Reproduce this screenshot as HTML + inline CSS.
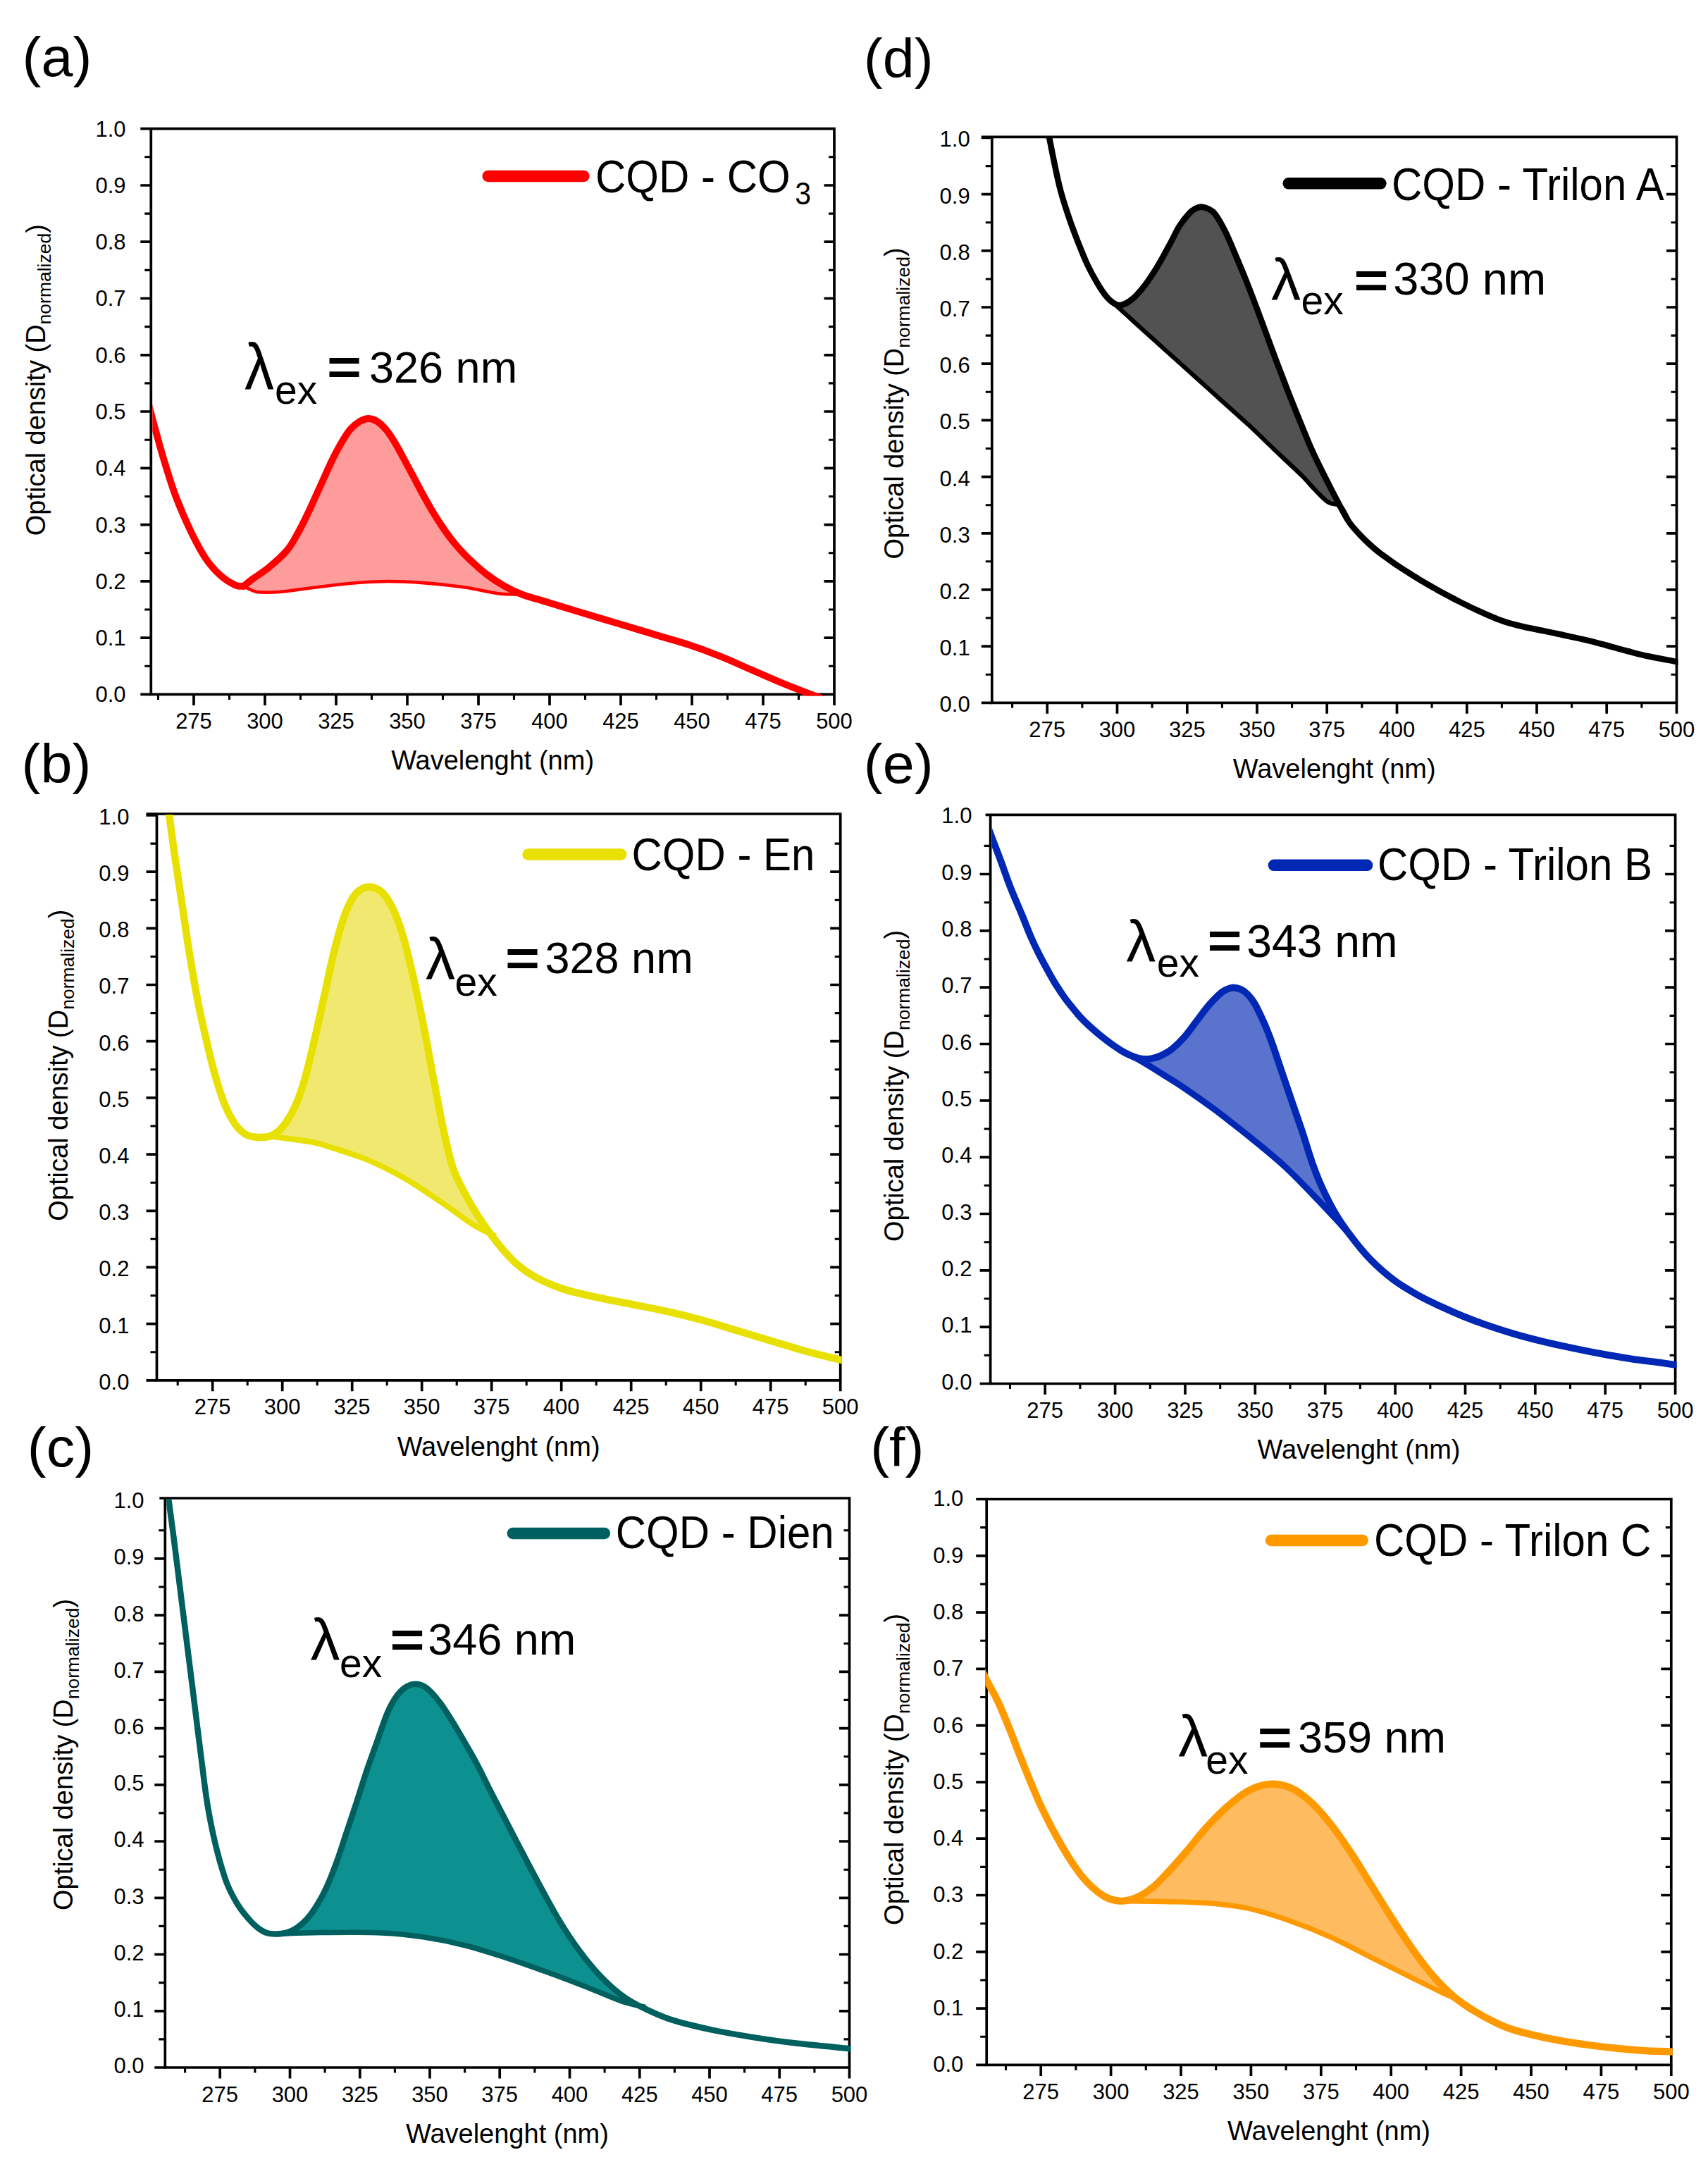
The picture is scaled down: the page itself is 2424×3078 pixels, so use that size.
<!DOCTYPE html>
<html lang="en"><head><meta charset="utf-8"><title>Absorption spectra of CQD samples</title>
<style>html,body{margin:0;padding:0;background:#fff}body{width:2424px;height:3078px;overflow:hidden}svg{display:block}text{font-family:"Liberation Sans", Arial, sans-serif;fill:#000}.tk{font-size:31px}.ti{font-size:38px}.pl{font-size:77px}.lg{font-size:60px}.ax{stroke:#000;fill:none}</style></head><body>
<svg width="2424" height="3078" viewBox="0 0 2424 3078">
<rect width="2424" height="3078" fill="#fff"/>
<g id="panel-a">
<clipPath id="cpa"><rect x="216.3" y="183.7" width="969.7" height="803.9"/></clipPath>
<path class="ax" d="M199.3 182.7H1185.8M212.5 985.4H1185.8M214.3 182.7V985.4M1184 182.7V1000.9" stroke-width="3.7"/>
<path class="ax" d="M199.3 985.4H214.3M199.3 905.1H214.3M1169.5 905.1H1184M199.3 824.9H214.3M1169.5 824.9H1184M199.3 744.6H214.3M1169.5 744.6H1184M199.3 664.3H214.3M1169.5 664.3H1184M199.3 584H214.3M1169.5 584H1184M199.3 503.8H214.3M1169.5 503.8H1184M199.3 423.5H214.3M1169.5 423.5H1184M199.3 343.2H214.3M1169.5 343.2H1184M199.3 263H214.3M1169.5 263H1184M275 985.4V1000.9M376 985.4V1000.9M477 985.4V1000.9M578 985.4V1000.9M679 985.4V1000.9M780 985.4V1000.9M881 985.4V1000.9M982 985.4V1000.9M1083 985.4V1000.9" stroke-width="3.7"/>
<path class="ax" d="M205.3 945.3H214.3M1176 945.3H1184M205.3 865H214.3M1176 865H1184M205.3 784.7H214.3M1176 784.7H1184M205.3 704.5H214.3M1176 704.5H1184M205.3 624.2H214.3M1176 624.2H1184M205.3 543.9H214.3M1176 543.9H1184M205.3 463.6H214.3M1176 463.6H1184M205.3 383.4H214.3M1176 383.4H1184M205.3 303.1H214.3M1176 303.1H1184M205.3 222.8H214.3M1176 222.8H1184M224.5 985.4V992.9M325.5 985.4V992.9M426.5 985.4V992.9M527.5 985.4V992.9M628.5 985.4V992.9M729.5 985.4V992.9M830.5 985.4V992.9M931.5 985.4V992.9M1032.5 985.4V992.9M1133.5 985.4V992.9" stroke-width="3.1"/>
<g clip-path="url(#cpa)">
<path d="M345.8 832L346.7 831.3L347.7 830.4L349 829.3L350.4 828L352.1 826.7L353.9 825.2L355.9 823.6L358 822L360.4 820.3L363 818.5L365.9 816.6L368.9 814.5L372 812.4L375.2 810.2L378.4 807.8L381.5 805.3L384.7 802.6L388.1 799.7L391.5 796.7L395 793.5L398.4 790.3L401.6 787.1L404.6 784L407.3 781L409.6 778.2L411.7 775.4L413.5 772.7L415.1 770.1L416.7 767.4L418.2 764.7L419.8 761.8L421.5 758.8L423.3 755.6L425 752.4L426.8 749L428.6 745.5L430.3 742L432.1 738.5L433.8 735L435.5 731.5L437.2 728L438.8 724.5L440.5 720.9L442.1 717.3L443.7 713.7L445.4 710.2L447 706.6L448.6 703L450.2 699.4L451.9 695.8L453.5 692.2L455.1 688.6L456.7 685L458.3 681.5L459.9 678L461.5 674.5L463.1 671.1L464.6 667.6L466.2 664.2L467.7 660.9L469.2 657.5L470.7 654.3L472.3 651.1L473.8 648L475.3 645L476.9 642L478.4 639.1L480 636.3L481.5 633.5L483 630.9L484.5 628.3L486 625.8L487.5 623.4L488.9 621.1L490.3 618.8L491.7 616.7L493.1 614.6L494.5 612.7L495.9 610.8L497.4 609L498.9 607.3L500.5 605.7L502.1 604.2L503.8 602.8L505.4 601.5L507 600.3L508.7 599.2L510.3 598.2L511.9 597.3L513.5 596.5L515.1 595.8L516.8 595.1L518.4 594.6L520 594.3L521.6 594.1L523.2 594L524.8 594.1L526.4 594.3L528 594.7L529.6 595.3L531.3 595.9L532.9 596.7L534.5 597.6L536.1 598.6L537.7 599.7L539.3 601L540.9 602.4L542.6 603.9L544.2 605.5L545.8 607.2L547.4 609.1L549 611L550.6 613.1L552.2 615.3L553.8 617.6L555.4 620.1L557 622.6L558.6 625.2L560.2 627.8L561.8 630.5L563.4 633.2L565 636.1L566.6 639L568.2 642L569.9 645L571.5 648L573.1 651L574.7 654L576.3 657L577.9 660L579.5 663L581.1 666L582.8 669L584.4 672L586 675L587.6 678L589.2 681L590.8 684.1L592.4 687.2L594 690.2L595.7 693.3L597.3 696.3L598.9 699.3L600.5 702.3L602.1 705.2L603.7 708.1L605.3 711L607 713.9L608.6 716.7L610.2 719.5L611.8 722.3L613.4 725L615 727.7L616.6 730.3L618.2 732.8L619.8 735.4L621.4 737.9L623 740.3L624.6 742.8L626.2 745.2L627.8 747.6L629.4 750L631 752.3L632.6 754.6L634.3 756.9L635.9 759.2L637.5 761.4L639.1 763.5L640.7 765.6L642.3 767.6L643.9 769.6L645.5 771.5L647.2 773.5L648.8 775.3L650.4 777.2L652 779L653.5 780.7L654.9 782.3L656.3 783.8L657.6 785.3L659.1 786.9L660.8 788.5L662.7 790.4L664.9 792.5L667.5 794.9L670.4 797.6L673.6 800.5L676.9 803.5L680.4 806.6L683.9 809.6L687.3 812.4L690.6 815L693.8 817.4L697 819.7L700.3 822L703.5 824.1L706.7 826.2L709.9 828.2L713.2 830.1L716.4 832L719.8 833.8L723.5 835.7L727.2 837.5L730.9 839.2L734.4 840.7L737.6 842.1L740 843.3C734.9 843.2 723.3 844.2 709.4 842.5C695.5 840.8 674.3 835.5 656.7 833C639.1 830.5 621.6 828.7 604 827.4C586.4 826.1 568.9 825 551.3 825C533.7 825 516.2 826.2 498.6 827.7C481 829.2 462.9 831.7 445.9 833.7C428.9 835.8 410.2 839 396.7 840C383.2 841 373.5 841.3 365 840C356.5 838.7 349 833.3 345.8 832Z" fill="#fe9b9b"/>
<path d="M345.8 832C349 833.3 356.5 838.7 365 840C373.5 841.3 383.2 841 396.7 840C410.2 839 428.9 835.8 445.9 833.7C462.9 831.7 481 829.2 498.6 827.7C516.2 826.2 533.7 825 551.3 825C568.9 825 586.4 826.1 604 827.4C621.6 828.7 639.1 830.5 656.7 833C674.3 835.5 695.5 840.8 709.4 842.5C723.3 844.2 734.9 843.2 740 843.3" fill="none" stroke="#ff0000" stroke-width="4.6" stroke-linejoin="round" stroke-linecap="butt"/>
<path d="M208.5 563C209.4 566.8 211.5 575.8 214 585.5C216.5 595.2 220.2 608.8 223.6 621C227 633.2 230.1 644.7 234.4 658.5C238.7 672.3 243.2 688 249.2 703.7C255.2 719.5 263.3 738.4 270.3 753C277.3 767.6 284.3 781.1 291.3 791.6C298.3 802.1 305.4 809.8 312.4 816.2C319.4 822.6 327.9 827.6 333.5 830.2C339.1 832.8 343.8 831.7 345.8 832M345.8 832C347.8 830.3 352.1 826.5 358 822C363.9 817.5 373.3 812.1 381.5 805.3C389.7 798.5 400.6 788.8 407.3 781C414 773.2 416.8 767 421.5 758.8C426.2 750.5 431 740.8 435.5 731.5C440 722.2 444.3 712.5 448.6 703C452.9 693.5 457.3 683.7 461.5 674.5C465.7 665.3 469.7 656.1 473.8 648C477.9 639.9 482.1 632.3 486 625.8C489.9 619.3 493.3 613.6 497.4 609C501.4 604.4 506 600.7 510.3 598.2C514.6 595.7 518.9 593.9 523.2 594C527.5 594.1 531.8 595.8 536.1 598.6C540.4 601.4 544.7 605.7 549 611C553.3 616.3 557.5 623.3 561.8 630.5C566.1 637.7 570.4 646.1 574.7 654C579 661.9 583.3 670 587.6 678C591.9 686 596.2 694.5 600.5 702.3C604.8 710.1 609.1 717.9 613.4 725C617.7 732.1 621.9 738.8 626.2 745.2C630.5 751.6 634.8 757.9 639.1 763.5C643.4 769.1 647.7 774.2 652 779C656.3 783.8 658.5 786.5 664.9 792.5C671.3 798.5 682 808.4 690.6 815C699.2 821.6 707.8 827.1 716.4 832C725 836.9 733.3 840.8 742.2 844.2C751.1 847.6 757.5 848.7 770 852.5C782.5 856.3 799.5 861.6 817.1 866.9C834.7 872.2 856.1 878.5 875.6 884.4C895.1 890.2 917.1 896.9 934.2 902C951.3 907.1 963.5 910.3 978.1 915.2C992.7 920.1 1007.4 925.4 1022 931.3C1036.6 937.1 1051.3 944 1065.9 950.3C1080.5 956.6 1095.7 963.4 1109.8 969.3C1123.9 975.1 1139.1 980.9 1150.8 985.4C1162.5 989.9 1175.1 994.2 1180 996" fill="none" stroke="#ff0000" stroke-width="9.8" stroke-linejoin="round" stroke-linecap="round"/>
</g>
<g class="tk" text-anchor="end">
<text x="178.6" y="996.3">0.0</text>
<text x="178.6" y="916">0.1</text>
<text x="178.6" y="835.8">0.2</text>
<text x="178.6" y="755.5">0.3</text>
<text x="178.6" y="675.2">0.4</text>
<text x="178.6" y="594.9">0.5</text>
<text x="178.6" y="514.7">0.6</text>
<text x="178.6" y="434.4">0.7</text>
<text x="178.6" y="354.1">0.8</text>
<text x="178.6" y="273.9">0.9</text>
<text x="178.6" y="193.6">1.0</text>
</g>
<g class="tk" text-anchor="middle">
<text x="275" y="1033.9">275</text>
<text x="376" y="1033.9">300</text>
<text x="477" y="1033.9">325</text>
<text x="578" y="1033.9">350</text>
<text x="679" y="1033.9">375</text>
<text x="780" y="1033.9">400</text>
<text x="881" y="1033.9">425</text>
<text x="982" y="1033.9">450</text>
<text x="1083" y="1033.9">475</text>
<text x="1184" y="1033.9">500</text>
</g>
<text class="ti" text-anchor="middle" x="699.1" y="1092.2">Wavelenght (nm)</text>
<text class="ti" transform="translate(63.5 760.3) rotate(-90)">Optical density (D<tspan font-size="26.5" dy="8.4">normalized</tspan><tspan dy="-8.4">)</tspan></text>
<text class="pl" transform="translate(31.5 108) scale(1.05 1)">(a)</text>
<line x1="692.7" y1="250" x2="828.4" y2="250" stroke="#ff0000" stroke-width="16.5" stroke-linecap="round"/>
<text class="lg" transform="translate(845 272.8) scale(1 1.085)">CQD - CO<tspan font-size="41" dx="6.5" dy="16">3</tspan></text>
<text font-size="84" transform="translate(347 552) scale(1 1.1)">λ</text>
<text font-size="57" x="390" y="573.3">ex</text>
<text font-size="84" font-weight="bold" transform="translate(464 544.6) scale(1 0.87)">=</text>
<text font-size="63" x="524" y="543.1">326 nm</text>
</g>
<g id="panel-b">
<clipPath id="cpb"><rect x="224.5" y="1156" width="970.2" height="805"/></clipPath>
<path class="ax" d="M207.5 1155H1194.5M220.7 1958.8H1194.5M222.5 1155V1958.8M1192.7 1155V1974.3" stroke-width="3.7"/>
<path class="ax" d="M207.5 1958.8H222.5M207.5 1878.6H222.5M1178.2 1878.6H1192.7M207.5 1798.4H222.5M1178.2 1798.4H1192.7M207.5 1718.3H222.5M1178.2 1718.3H1192.7M207.5 1638.1H222.5M1178.2 1638.1H1192.7M207.5 1557.9H222.5M1178.2 1557.9H1192.7M207.5 1477.7H222.5M1178.2 1477.7H1192.7M207.5 1397.5H222.5M1178.2 1397.5H1192.7M207.5 1317.4H222.5M1178.2 1317.4H1192.7M207.5 1237.2H222.5M1178.2 1237.2H1192.7M207.5 1157H222.5M301.7 1958.8V1974.3M400.7 1958.8V1974.3M499.7 1958.8V1974.3M598.7 1958.8V1974.3M697.7 1958.8V1974.3M796.7 1958.8V1974.3M895.7 1958.8V1974.3M994.7 1958.8V1974.3M1093.7 1958.8V1974.3" stroke-width="3.7"/>
<path class="ax" d="M213.5 1918.7H222.5M1184.7 1918.7H1192.7M213.5 1838.5H222.5M1184.7 1838.5H1192.7M213.5 1758.3H222.5M1184.7 1758.3H1192.7M213.5 1678.2H222.5M1184.7 1678.2H1192.7M213.5 1598H222.5M1184.7 1598H1192.7M213.5 1517.8H222.5M1184.7 1517.8H1192.7M213.5 1437.6H222.5M1184.7 1437.6H1192.7M213.5 1357.5H222.5M1184.7 1357.5H1192.7M213.5 1277.3H222.5M1184.7 1277.3H1192.7M213.5 1197.1H222.5M1184.7 1197.1H1192.7M252.2 1958.8V1966.3M351.2 1958.8V1966.3M450.2 1958.8V1966.3M549.2 1958.8V1966.3M648.2 1958.8V1966.3M747.2 1958.8V1966.3M846.2 1958.8V1966.3M945.2 1958.8V1966.3M1044.2 1958.8V1966.3M1143.2 1958.8V1966.3" stroke-width="3.1"/>
<g clip-path="url(#cpb)">
<path d="M382.7 1612.5L384 1611.7L385.8 1610.7L388 1609.5L390.3 1608.1L392.9 1606.5L395.4 1604.7L397.9 1602.6L400.2 1600.2L402.4 1597.5L404.7 1594.5L406.9 1591.3L409.2 1587.8L411.5 1584.1L413.6 1580.2L415.8 1576.2L417.8 1572.1L419.7 1567.9L421.6 1563.6L423.3 1559.1L425.1 1554.5L426.8 1549.7L428.5 1544.6L430.2 1539.1L431.9 1533.4L433.7 1527.3L435.4 1520.7L437.2 1513.9L438.9 1506.8L440.6 1499.6L442.4 1492.2L444.1 1484.7L445.9 1477.2L447.7 1469.6L449.4 1461.9L451.2 1454L453 1446L454.7 1438L456.5 1430L458.2 1421.9L460 1414L461.8 1406L463.5 1397.9L465.3 1389.7L467 1381.5L468.7 1373.5L470.5 1365.6L472.2 1358L474 1350.8L475.8 1343.8L477.5 1337.1L479.3 1330.5L481.1 1324.1L482.8 1318L484.6 1312.2L486.3 1306.7L488.1 1301.6L489.9 1296.8L491.6 1292.3L493.4 1288.2L495.1 1284.3L496.8 1280.7L498.6 1277.4L500.3 1274.4L502.1 1271.7L503.9 1269.3L505.6 1267.3L507.4 1265.5L509.2 1264.1L510.9 1262.8L512.7 1261.8L514.4 1260.9L516.2 1260.1L518 1259.4L519.7 1258.9L521.5 1258.6L523.2 1258.5L524.9 1258.5L526.7 1258.7L528.4 1259L530.2 1259.4L532 1259.9L533.7 1260.6L535.5 1261.4L537.2 1262.3L539 1263.4L540.8 1264.8L542.5 1266.4L544.3 1268.2L546.1 1270.3L547.8 1272.6L549.6 1275.1L551.3 1277.8L553 1280.7L554.8 1283.9L556.5 1287.4L558.3 1291.1L560.1 1295.1L561.8 1299.2L563.6 1303.7L565.4 1308.3L567.1 1313.2L568.9 1318.4L570.6 1323.9L572.4 1329.7L574.2 1335.8L575.9 1342.3L577.7 1349L579.4 1356L581.1 1363.3L582.9 1370.7L584.6 1378.3L586.4 1385.9L588.2 1393.7L589.9 1401.7L591.7 1409.8L593.4 1418.2L595.2 1426.6L597 1435.2L598.7 1443.9L600.5 1452.6L602.3 1461.5L604 1470.6L605.7 1479.8L607.5 1489.1L609.2 1498.4L611 1507.8L612.7 1517.1L614.5 1526.4L616.3 1535.7L618 1545.1L619.8 1554.6L621.5 1564.1L623.3 1573.4L625.1 1582.6L626.9 1591.5L628.7 1600L630.5 1608.2L632.1 1616.1L633.8 1623.8L635.5 1631.2L637.2 1638.5L639.2 1645.6L641.3 1652.6L643.6 1659.5L646.2 1666.2L649 1672.7L652 1679.1L655.1 1685.3L658.4 1691.4L661.7 1697.4L665.1 1703.4L668.5 1709.3L672.2 1715.4L676.3 1721.9L680.7 1728.4L685 1734.8L689.2 1740.8L692.9 1746.2L696.1 1750.7L698.4 1754.1L703.3 1754.1C698.3 1751.6 686.8 1747.5 673.5 1739.2C660.2 1730.9 640.3 1715.5 623.7 1704.3C607.1 1693.1 590.6 1681.5 574 1672C557.4 1662.5 540.8 1654.1 524.2 1647.1C507.6 1640 487.4 1634 474.4 1629.7C461.3 1625.4 456.5 1623.6 445.9 1621.3C435.3 1619 421.3 1617.5 410.8 1616C400.3 1614.5 387.4 1613.1 382.7 1612.5Z" fill="#f1e86f"/>
<path d="M382.7 1612.5C387.4 1613.1 400.3 1614.5 410.8 1616C421.3 1617.5 435.3 1619 445.9 1621.3C456.5 1623.6 461.3 1625.4 474.4 1629.7C487.4 1634 507.6 1640 524.2 1647.1C540.8 1654.1 557.4 1662.5 574 1672C590.6 1681.5 607.1 1693.1 623.7 1704.3C640.3 1715.5 660.2 1730.9 673.5 1739.2C686.8 1747.5 698.3 1751.6 703.3 1754.1" fill="none" stroke="#e8e000" stroke-width="8" stroke-linejoin="round" stroke-linecap="butt"/>
<path d="M239 1140C239.2 1142.9 239 1145.9 240.4 1157.6C241.8 1169.3 244.5 1189.8 247.4 1210.3C250.3 1230.8 254.5 1257.1 258 1280.5C261.5 1303.9 264.7 1327.4 268.5 1350.8C272.3 1374.2 276.7 1399.9 280.8 1421C284.9 1442.1 289 1459.6 293.1 1477.2C297.2 1494.8 301 1511.2 305.4 1526.4C309.8 1541.6 314.7 1557.2 319.4 1568.6C324.1 1580 328.8 1588.2 333.5 1594.9C338.2 1601.6 342.8 1605.9 347.5 1609C352.2 1612.1 355.7 1612.9 361.6 1613.5C367.5 1614.1 376.3 1614.7 382.7 1612.5C389.1 1610.3 394.3 1606.9 400.2 1600.2C406.1 1593.5 412.5 1583.2 417.8 1572.1C423.1 1561 427.2 1549.2 431.9 1533.4C436.6 1517.6 441.2 1497.1 445.9 1477.2C450.6 1457.3 455.3 1435.1 460 1414C464.7 1392.9 469.3 1369.5 474 1350.8C478.7 1332.1 483.4 1314.8 488.1 1301.6C492.8 1288.4 497.4 1278.6 502.1 1271.7C506.8 1264.8 511.5 1262.1 516.2 1260.1C520.9 1258 525.5 1258.1 530.2 1259.4C534.9 1260.8 539.6 1262.9 544.3 1268.2C549 1273.5 553.6 1280.8 558.3 1291.1C563 1301.3 567.7 1313.9 572.4 1329.7C577.1 1345.5 581.7 1365.4 586.4 1385.9C591.1 1406.4 595.8 1429.2 600.5 1452.6C605.2 1476 609.8 1501.8 614.5 1526.4C619.2 1551 623.9 1577.8 628.7 1600C633.6 1622.2 637 1641.3 643.6 1659.5C650.2 1677.7 659.4 1693.5 668.5 1709.3C677.6 1725.1 688.4 1740.8 698.4 1754.1C708.4 1767.4 718.2 1779.4 728.2 1788.9C738.2 1798.4 746.5 1804.7 758.1 1811.3C769.7 1817.9 783 1823.7 797.9 1828.7C812.8 1833.7 831.1 1837.5 847.7 1841.2C864.3 1844.9 880.8 1847.8 897.4 1851.1C914 1854.4 930.6 1857.4 947.2 1861.1C963.8 1864.8 980.4 1868.9 997 1873.5C1013.6 1878.1 1030.1 1883.5 1046.7 1888.5C1063.3 1893.5 1079.9 1898.4 1096.5 1903.4C1113.1 1908.4 1130.5 1914 1146.3 1918.3C1162 1922.6 1182 1927.1 1191 1929.3C1200 1931.5 1198.5 1931.1 1200 1931.5" fill="none" stroke="#e8e000" stroke-width="10.4" stroke-linejoin="round" stroke-linecap="round"/>
</g>
<g class="tk" text-anchor="end">
<text x="183.4" y="1971.7">0.0</text>
<text x="183.4" y="1891.5">0.1</text>
<text x="183.4" y="1811.3">0.2</text>
<text x="183.4" y="1731.2">0.3</text>
<text x="183.4" y="1651">0.4</text>
<text x="183.4" y="1570.8">0.5</text>
<text x="183.4" y="1490.6">0.6</text>
<text x="183.4" y="1410.4">0.7</text>
<text x="183.4" y="1330.3">0.8</text>
<text x="183.4" y="1250.1">0.9</text>
<text x="183.4" y="1169.9">1.0</text>
</g>
<g class="tk" text-anchor="middle">
<text x="301.7" y="2007.3">275</text>
<text x="400.7" y="2007.3">300</text>
<text x="499.7" y="2007.3">325</text>
<text x="598.7" y="2007.3">350</text>
<text x="697.7" y="2007.3">375</text>
<text x="796.7" y="2007.3">400</text>
<text x="895.7" y="2007.3">425</text>
<text x="994.7" y="2007.3">450</text>
<text x="1093.7" y="2007.3">475</text>
<text x="1192.7" y="2007.3">500</text>
</g>
<text class="ti" text-anchor="middle" x="707.6" y="2065.6">Wavelenght (nm)</text>
<text class="ti" transform="translate(96.4 1732.7) rotate(-90)">Optical density (D<tspan font-size="26.5" dy="8.4">normalized</tspan><tspan dy="-8.4">)</tspan></text>
<text class="pl" transform="translate(30.5 1111.4) scale(1.05 1)">(b)</text>
<line x1="749.5" y1="1212.5" x2="881.3" y2="1212.5" stroke="#e8e000" stroke-width="16.5" stroke-linecap="round"/>
<text class="lg" transform="translate(896.4 1235.3) scale(1 1.085)">CQD - En</text>
<text font-size="84" transform="translate(604 1389.6) scale(1 1)">λ</text>
<text font-size="57" x="645.5" y="1412.5">ex</text>
<text font-size="84" font-weight="bold" transform="translate(717 1383.6) scale(1 0.87)">=</text>
<text font-size="63" x="773.5" y="1380.5">328 nm</text>
</g>
<g id="panel-c">
<clipPath id="cpc"><rect x="236.3" y="2127" width="971.2" height="809.2"/></clipPath>
<path class="ax" d="M226.3 2126H1207.3M232.5 2934H1207.3M234.3 2126V2934M1205.5 2126V2949.5" stroke-width="3.7"/>
<path class="ax" d="M219.3 2934H234.3M219.3 2853.8H234.3M1191 2853.8H1205.5M219.3 2773.5H234.3M1191 2773.5H1205.5M219.3 2693.3H234.3M1191 2693.3H1205.5M219.3 2613H234.3M1191 2613H1205.5M219.3 2532.8H234.3M1191 2532.8H1205.5M219.3 2452.6H234.3M1191 2452.6H1205.5M219.3 2372.3H234.3M1191 2372.3H1205.5M219.3 2292.1H234.3M1191 2292.1H1205.5M219.3 2211.8H234.3M1191 2211.8H1205.5M312.2 2934V2949.5M411.5 2934V2949.5M510.8 2934V2949.5M610 2934V2949.5M709.2 2934V2949.5M808.5 2934V2949.5M907.8 2934V2949.5M1007 2934V2949.5M1106.2 2934V2949.5" stroke-width="3.7"/>
<path class="ax" d="M225.3 2893.9H234.3M1197.5 2893.9H1205.5M225.3 2813.6H234.3M1197.5 2813.6H1205.5M225.3 2733.4H234.3M1197.5 2733.4H1205.5M225.3 2653.2H234.3M1197.5 2653.2H1205.5M225.3 2572.9H234.3M1197.5 2572.9H1205.5M225.3 2492.7H234.3M1197.5 2492.7H1205.5M225.3 2412.4H234.3M1197.5 2412.4H1205.5M225.3 2332.2H234.3M1197.5 2332.2H1205.5M225.3 2252H234.3M1197.5 2252H1205.5M225.3 2171.7H234.3M1197.5 2171.7H1205.5M262.6 2934V2941.5M361.9 2934V2941.5M461.1 2934V2941.5M560.4 2934V2941.5M659.6 2934V2941.5M758.9 2934V2941.5M858.1 2934V2941.5M957.4 2934V2941.5M1056.6 2934V2941.5M1155.9 2934V2941.5" stroke-width="3.1"/>
<g clip-path="url(#cpc)">
<path d="M393.5 2744.5L394.6 2744.4L396 2744.2L397.7 2744.1L399.6 2743.9L401.6 2743.6L403.7 2743.3L405.6 2742.9L407.5 2742.4L409.3 2741.8L411 2741.1L412.8 2740.4L414.5 2739.5L416.3 2738.6L418.1 2737.6L419.8 2736.6L421.6 2735.4L423.4 2734.2L425.1 2732.9L426.9 2731.5L428.7 2730L430.4 2728.5L432.2 2726.8L433.9 2725L435.7 2723.1L437.5 2721.1L439.2 2718.9L441 2716.7L442.7 2714.3L444.4 2711.9L446.2 2709.3L447.9 2706.6L449.7 2703.8L451.5 2700.9L453.2 2697.9L455 2694.8L456.8 2691.6L458.5 2688.2L460.3 2684.8L462 2681.2L463.8 2677.4L465.6 2673.5L467.3 2669.4L469.1 2665.2L470.8 2660.8L472.5 2656.4L474.3 2651.8L476 2647.1L477.8 2642.3L479.6 2637.4L481.3 2632.2L483.1 2627L484.8 2621.6L486.6 2616.2L488.4 2610.8L490.1 2605.4L491.9 2600.1L493.7 2594.8L495.4 2589.6L497.2 2584.4L498.9 2579.2L500.6 2573.9L502.4 2568.7L504.1 2563.4L505.9 2558L507.6 2552.6L509.4 2547.2L511.1 2541.7L512.8 2536.2L514.6 2530.7L516.3 2525.2L518.1 2519.6L520 2514L521.9 2508.3L524 2502.5L526 2496.7L528.1 2490.8L530.2 2485L532.3 2479.3L534.3 2473.7L536.2 2468.3L538.1 2463L539.9 2457.8L541.6 2452.7L543.3 2447.7L545 2442.8L546.7 2438.2L548.5 2433.8L550.2 2429.7L552 2425.9L553.7 2422.3L555.5 2418.9L557.2 2415.8L559 2412.8L560.8 2410.1L562.5 2407.5L564.3 2405.1L566.1 2402.9L567.8 2400.9L569.6 2399.2L571.3 2397.6L573 2396.2L574.8 2394.9L576.5 2393.8L578.3 2392.8L580.1 2391.9L581.8 2391.2L583.6 2390.7L585.4 2390.2L587.1 2390L588.9 2389.8L590.6 2389.8L592.4 2390L594.1 2390.3L595.8 2390.6L597.5 2391.1L599.2 2391.8L600.9 2392.6L602.6 2393.6L604.5 2394.8L606.4 2396.3L608.4 2398L610.5 2400L612.7 2402.3L615 2404.7L617.2 2407.3L619.5 2410L621.8 2412.8L624 2415.6L626.2 2418.5L628.4 2421.6L630.6 2424.8L632.8 2428.1L634.9 2431.5L637.1 2435L639.3 2438.5L641.5 2442L643.7 2445.6L645.9 2449.2L648.1 2452.9L650.3 2456.6L652.5 2460.4L654.7 2464.2L656.9 2468L659.1 2471.8L661.3 2475.6L663.5 2479.4L665.7 2483.2L667.9 2487.1L670.1 2491L672.3 2494.9L674.5 2498.9L676.7 2503L678.9 2507.2L681.1 2511.5L683.3 2515.9L685.5 2520.3L687.6 2524.8L689.8 2529.2L692 2533.6L694.2 2538L696.4 2542.2L698.5 2546.3L700.5 2550.3L702.6 2554.4L704.8 2558.5L707 2562.7L709.3 2567.2L711.8 2572L714.4 2577L717.1 2582.2L719.9 2587.6L722.8 2593.2L725.7 2598.9L728.8 2604.8L732 2610.9L735.2 2617.1L738.6 2623.6L742.1 2630.3L745.8 2637.3L749.5 2644.4L753.3 2651.6L757 2658.8L760.8 2665.8L764.5 2672.7L768.2 2679.5L771.8 2686.3L775.5 2693.1L779.2 2699.8L782.8 2706.4L786.5 2712.9L790.1 2719.3L793.8 2725.4L797.5 2731.4L801.1 2737.2L804.8 2742.9L808.4 2748.5L812 2753.9L815.7 2759.2L819.3 2764.3L823 2769.3L826.7 2774.2L830.3 2778.9L834 2783.5L837.6 2787.9L841.3 2792.3L845 2796.4L848.6 2800.5L852.3 2804.4L856 2808.2L859.6 2811.8L863.3 2815.3L867 2818.7L870.6 2821.9L874.3 2825L877.9 2828L881.6 2830.8L885.5 2833.5L889.6 2836.2L893.9 2838.8L898.1 2841.2L902.1 2843.5L905.6 2845.4L908.6 2847.1L910.9 2848.4L916 2848.4C910.3 2846.9 895.1 2844.2 881.6 2839.6C868.1 2835 852.4 2827.6 834.8 2820.8C817.2 2814 795.7 2805.7 776.2 2798.6C756.7 2791.5 737.2 2784.4 717.7 2778.1C698.2 2771.8 678.6 2765.4 659.1 2760.5C639.6 2755.6 620.1 2751.7 600.6 2748.8C581.1 2745.9 566.4 2744 542 2743C517.6 2742 478.9 2742.3 454.2 2742.6C429.4 2742.8 403.6 2744.2 393.5 2744.5Z" fill="#0d9090"/>
<path d="M393.5 2744.5C403.6 2744.2 429.4 2742.8 454.2 2742.6C478.9 2742.3 517.6 2742 542 2743C566.4 2744 581.1 2745.9 600.6 2748.8C620.1 2751.7 639.6 2755.6 659.1 2760.5C678.6 2765.4 698.2 2771.8 717.7 2778.1C737.2 2784.4 756.7 2791.5 776.2 2798.6C795.7 2805.7 817.2 2814 834.8 2820.8C852.4 2827.6 868.1 2835 881.6 2839.6C895.1 2844.2 910.3 2846.9 916 2848.4" fill="none" stroke="#005f5f" stroke-width="7.5" stroke-linejoin="round" stroke-linecap="butt"/>
<path d="M237.5 2110C237.8 2112.9 237.8 2115.9 239.3 2127.6C240.8 2139.3 243.7 2159.8 246.3 2180.3C248.9 2200.8 252.2 2227.1 255.1 2250.5C258 2273.9 261 2297.4 263.9 2320.8C266.8 2344.2 269.9 2368.6 272.7 2391C275.5 2413.4 278.3 2436.8 280.6 2455C282.9 2473.2 284.6 2486.7 286.3 2500C288 2513.3 289.1 2523.4 290.7 2535.1C292.3 2546.8 293.9 2558.6 296 2570.3C298.1 2582 300.4 2593.7 303 2605.4C305.6 2617.1 308.6 2629.2 311.8 2640.5C315 2651.8 318.3 2663.3 322.4 2673.5C326.5 2683.7 331.8 2693.5 336.6 2701.5C341.4 2709.5 346.5 2715.7 351.3 2721.3C356.1 2727 360.7 2731.7 365.4 2735.4C370.1 2739.1 374.7 2741.8 379.4 2743.3C384.1 2744.8 388.8 2744.7 393.5 2744.5C398.2 2744.3 402.8 2743.9 407.5 2742.4C412.2 2740.9 416.9 2738.6 421.6 2735.4C426.3 2732.2 431 2728.4 435.7 2723.1C440.4 2717.8 445 2711.4 449.7 2703.8C454.4 2696.2 459.1 2687.7 463.8 2677.4C468.5 2667.2 473.1 2655.2 477.8 2642.3C482.5 2629.4 487.2 2614.2 491.9 2600.1C496.6 2586 501.2 2572.3 505.9 2558C510.6 2543.7 515 2528.9 520 2514C525 2499.1 531.2 2482.4 536.2 2468.3C541.2 2454.2 545.5 2440.2 550.2 2429.7C554.9 2419.2 559.6 2411.2 564.3 2405.1C569 2398.9 573.6 2395.3 578.3 2392.8C583 2390.3 587.7 2389.4 592.4 2390C597.1 2390.6 601.1 2392 606.4 2396.3C611.7 2400.6 618.1 2408 624 2415.6C629.9 2423.2 635.6 2432.6 641.5 2442C647.4 2451.4 653.2 2461.6 659.1 2471.8C665 2482 670.9 2492 676.7 2503C682.6 2514 688.4 2526.5 694.2 2538C700.1 2549.5 705 2558.8 711.8 2572C718.6 2585.2 726.4 2600.3 735.2 2617.1C744 2633.9 754.7 2654.6 764.5 2672.7C774.3 2690.8 784 2709.3 793.8 2725.4C803.5 2741.5 813.2 2756.1 823 2769.3C832.8 2782.5 842.5 2794.2 852.3 2804.4C862.1 2814.7 871.8 2823.5 881.6 2830.8C891.4 2838.1 899.2 2842.6 910.9 2848.4C922.6 2854.2 935.3 2860.5 951.9 2865.9C968.5 2871.3 990.9 2876.4 1010.4 2880.6C1029.9 2884.8 1049.5 2888 1069 2891.1C1088.5 2894.2 1105.1 2896.7 1127.5 2899.3C1149.9 2901.9 1189.5 2905.5 1203.6 2906.9C1217.7 2908.3 1210.6 2907.5 1212 2907.6" fill="none" stroke="#005f5f" stroke-width="8.5" stroke-linejoin="round" stroke-linecap="round"/>
</g>
<g class="tk" text-anchor="end">
<text x="204.6" y="2942.4">0.0</text>
<text x="204.6" y="2862.2">0.1</text>
<text x="204.6" y="2781.9">0.2</text>
<text x="204.6" y="2701.7">0.3</text>
<text x="204.6" y="2621.4">0.4</text>
<text x="204.6" y="2541.2">0.5</text>
<text x="204.6" y="2461">0.6</text>
<text x="204.6" y="2380.7">0.7</text>
<text x="204.6" y="2300.5">0.8</text>
<text x="204.6" y="2220.2">0.9</text>
<text x="204.6" y="2140">1.0</text>
</g>
<g class="tk" text-anchor="middle">
<text x="312.2" y="2982.5">275</text>
<text x="411.5" y="2982.5">300</text>
<text x="510.8" y="2982.5">325</text>
<text x="610" y="2982.5">350</text>
<text x="709.2" y="2982.5">375</text>
<text x="808.5" y="2982.5">400</text>
<text x="907.8" y="2982.5">425</text>
<text x="1007" y="2982.5">450</text>
<text x="1106.2" y="2982.5">475</text>
<text x="1205.5" y="2982.5">500</text>
</g>
<text class="ti" text-anchor="middle" x="719.9" y="3040.8">Wavelenght (nm)</text>
<text class="ti" transform="translate(103.4 2711.1) rotate(-90)">Optical density (D<tspan font-size="26.5" dy="8.4">normalized</tspan><tspan dy="-8.4">)</tspan></text>
<text class="pl" transform="translate(38.8 2080.5) scale(1.05 1)">(c)</text>
<line x1="727.8" y1="2176" x2="857.9" y2="2176" stroke="#005f5f" stroke-width="16.5" stroke-linecap="round"/>
<text class="lg" transform="translate(873.7 2197.1) scale(1 1.085)">CQD - Dien</text>
<text font-size="84" transform="translate(440.5 2356.4) scale(1 1)">λ</text>
<text font-size="57" x="482" y="2379.8">ex</text>
<text font-size="84" font-weight="bold" transform="translate(553.4 2350.6) scale(1 0.87)">=</text>
<text font-size="63" x="607.2" y="2348.4">346 nm</text>
</g>
<g id="panel-d">
<clipPath id="cpd"><rect x="1409.8" y="195.4" width="971.7" height="804.1"/></clipPath>
<path class="ax" d="M1392.8 194.4H2381.3M1406 997.3H2381.3M1407.8 194.4V997.3M2379.5 194.4V1012.8" stroke-width="3.7"/>
<path class="ax" d="M1392.8 997.3H1407.8M1392.8 917.1H1407.8M2365 917.1H2379.5M1392.8 836.9H1407.8M2365 836.9H2379.5M1392.8 756.8H1407.8M2365 756.8H2379.5M1392.8 676.6H1407.8M2365 676.6H2379.5M1392.8 596.4H1407.8M2365 596.4H2379.5M1392.8 516.2H1407.8M2365 516.2H2379.5M1392.8 436H1407.8M2365 436H2379.5M1392.8 355.9H1407.8M2365 355.9H2379.5M1392.8 275.7H1407.8M2365 275.7H2379.5M1392.8 195.5H1407.8M1486.2 997.3V1012.8M1585.5 997.3V1012.8M1684.8 997.3V1012.8M1784 997.3V1012.8M1883.2 997.3V1012.8M1982.5 997.3V1012.8M2081.8 997.3V1012.8M2181 997.3V1012.8M2280.2 997.3V1012.8" stroke-width="3.7"/>
<path class="ax" d="M1398.8 957.2H1407.8M2371.5 957.2H2379.5M1398.8 877H1407.8M2371.5 877H2379.5M1398.8 796.8H1407.8M2371.5 796.8H2379.5M1398.8 716.7H1407.8M2371.5 716.7H2379.5M1398.8 636.5H1407.8M2371.5 636.5H2379.5M1398.8 556.3H1407.8M2371.5 556.3H2379.5M1398.8 476.1H1407.8M2371.5 476.1H2379.5M1398.8 396H1407.8M2371.5 396H2379.5M1398.8 315.8H1407.8M2371.5 315.8H2379.5M1398.8 235.6H1407.8M2371.5 235.6H2379.5M1436.6 997.3V1004.8M1535.9 997.3V1004.8M1635.1 997.3V1004.8M1734.4 997.3V1004.8M1833.6 997.3V1004.8M1932.9 997.3V1004.8M2032.1 997.3V1004.8M2131.4 997.3V1004.8M2230.6 997.3V1004.8M2329.9 997.3V1004.8" stroke-width="3.1"/>
<g clip-path="url(#cpd)">
<path d="M1581.5 430.8L1582.2 431L1583.1 431.4L1584.2 431.9L1585.5 432.4L1586.8 432.8L1588.3 433.1L1589.8 433.1L1591.4 432.9L1593.1 432.4L1594.9 431.7L1596.9 430.9L1598.9 429.8L1601 428.6L1603.1 427.3L1605.2 425.8L1607.3 424.1L1609.4 422.2L1611.6 420.2L1613.7 417.9L1615.9 415.5L1618.2 413L1620.4 410.4L1622.6 407.6L1624.8 404.8L1627 401.9L1629.2 398.8L1631.4 395.7L1633.6 392.4L1635.8 389.1L1638 385.6L1640.2 382.1L1642.4 378.5L1644.6 374.8L1646.9 370.9L1649.2 366.8L1651.4 362.7L1653.7 358.6L1655.9 354.6L1658 350.6L1660 346.9L1661.9 343.3L1663.8 339.7L1665.5 336.2L1667.2 332.8L1668.9 329.6L1670.6 326.4L1672.3 323.4L1674 320.5L1675.8 317.8L1677.6 315.1L1679.5 312.6L1681.4 310.3L1683.2 308.1L1684.9 306L1686.6 304.2L1688.1 302.5L1689.5 301.1L1690.7 299.9L1691.9 299L1692.9 298.2L1694 297.5L1695 296.9L1696 296.3L1697 295.8L1698 295.3L1699 294.8L1700 294.4L1701 294.1L1701.9 293.9L1702.9 293.7L1703.9 293.6L1705 293.6L1706.1 293.7L1707.3 293.8L1708.4 294L1709.6 294.3L1710.8 294.7L1712.1 295.1L1713.3 295.6L1714.5 296.2L1715.7 296.8L1716.8 297.3L1717.9 297.8L1719.1 298.5L1720.3 299.3L1721.5 300.4L1722.8 301.8L1724.3 303.6L1725.9 305.8L1727.6 308.4L1729.4 311.3L1731.3 314.5L1733.3 317.9L1735.2 321.4L1737.1 325L1739 328.7L1740.8 332.5L1742.7 336.5L1744.5 340.7L1746.4 345L1748.3 349.4L1750.1 353.8L1752 358.2L1753.8 362.6L1755.6 366.9L1757.5 371.3L1759.3 375.6L1761.2 380L1763 384.4L1764.8 388.9L1766.7 393.4L1768.5 398L1770.3 402.6L1772.2 407.4L1774 412.1L1775.9 416.9L1777.8 421.8L1779.6 426.6L1781.5 431.5L1783.3 436.4L1785.1 441.3L1787 446.2L1788.8 451.2L1790.7 456.2L1792.5 461.2L1794.3 466.2L1796.2 471.2L1798 476.2L1799.8 481.2L1801.7 486.2L1803.5 491.2L1805.4 496.2L1807.3 501.3L1809.1 506.2L1811 511.2L1812.8 516.1L1814.6 521L1816.5 525.8L1818.3 530.6L1820.2 535.4L1822 540.2L1823.8 545L1825.7 549.7L1827.5 554.4L1829.3 559L1831.1 563.5L1832.9 567.9L1834.6 572.4L1836.4 576.8L1838.3 581.5L1840.2 586.3L1842.3 591.3L1844.5 596.7L1846.8 602.4L1849.2 608.3L1851.6 614.4L1854.1 620.4L1856.6 626.4L1859 632.1L1861.4 637.5L1863.7 642.6L1866 647.5L1868.2 652.2L1870.5 656.8L1872.7 661.4L1875 665.8L1877.2 670.3L1879.5 674.9L1881.8 679.5L1884.2 684.2L1886.5 688.8L1888.9 693.5L1891.2 698L1893.5 702.5L1895.8 706.8L1898 711L1900.1 715L1902.2 719L1903 719C1899.9 717.9 1890.9 716.6 1884.6 712.4C1878.3 708.2 1871.2 700 1865 693.7C1858.8 687.5 1857.1 684.3 1847.6 674.9C1838.1 665.5 1820.5 649.4 1808 637.5C1795.5 625.6 1784.6 614.6 1772.4 603.3C1760.2 592 1747.4 580.8 1734.9 569.6C1722.4 558.4 1710 547.1 1697.5 535.9C1685 524.7 1672.9 513.8 1660 502.2C1647.1 490.6 1630 475.2 1620 466.2C1610 457.2 1606.5 453.9 1600 448C1593.5 442.1 1584.2 433.7 1581 430.8Z" fill="#525252"/>
<path d="M1581 430.8C1584.2 433.7 1593.5 442.1 1600 448C1606.5 453.9 1610 457.2 1620 466.2C1630 475.2 1647.1 490.6 1660 502.2C1672.9 513.8 1685 524.7 1697.5 535.9C1710 547.1 1722.4 558.4 1734.9 569.6C1747.4 580.8 1760.2 592 1772.4 603.3C1784.6 614.6 1795.5 625.6 1808 637.5C1820.5 649.4 1838.1 665.5 1847.6 674.9C1857.1 684.3 1858.8 687.5 1865 693.7C1871.2 700 1878.3 708.2 1884.6 712.4C1890.9 716.6 1897.8 714 1903 719C1908.2 724.1 1913.8 738.8 1915.9 742.7" fill="none" stroke="#000000" stroke-width="6.2" stroke-linejoin="round" stroke-linecap="butt"/>
<path d="M1486 180C1486.6 182.9 1487.8 188.8 1489.6 197.6C1491.4 206.4 1494 220.4 1496.6 232.7C1499.2 245 1501.9 258.4 1505.4 271.3C1508.9 284.2 1513.3 297.7 1517.5 310C1521.7 322.3 1526.2 334.3 1530.5 345.1C1534.8 355.9 1538.6 365.6 1543 375C1547.4 384.4 1552.5 393.7 1557 401.3C1561.5 408.9 1565.9 415.7 1570 420.6C1574.1 425.5 1577.9 428.8 1581.5 430.8C1585.1 432.9 1587.1 434 1591.4 432.9C1595.7 431.8 1601.7 428.8 1607.3 424.1C1612.9 419.4 1618.9 412.4 1624.8 404.8C1630.7 397.2 1636.5 388.1 1642.4 378.5C1648.3 368.9 1654.7 356.6 1660 346.9C1665.3 337.2 1669.3 327.9 1674 320.5C1678.7 313.1 1684.3 306.6 1688.1 302.5C1691.9 298.4 1694.2 297.3 1697 295.8C1699.8 294.3 1702.1 293.5 1705 293.6C1707.9 293.7 1711.3 294.5 1714.5 296.2C1717.7 297.9 1720.2 298.2 1724.3 303.6C1728.4 309 1734.1 318.9 1739 328.7C1743.9 338.5 1748.9 351.1 1753.8 362.6C1758.7 374.2 1763.6 385.7 1768.5 398C1773.4 410.3 1778.4 423.4 1783.3 436.4C1788.2 449.4 1793.1 462.9 1798 476.2C1802.9 489.5 1807.9 503.1 1812.8 516.1C1817.7 529.1 1822.6 541.9 1827.5 554.4C1832.4 566.9 1836.6 577.4 1842.3 591.3C1848 605.1 1855.2 623.6 1861.4 637.5C1867.6 651.4 1873.4 662.6 1879.5 674.9C1885.6 687.1 1892.2 700.1 1898 711C1903.8 721.9 1909.1 732.4 1914.1 740C1919.1 747.6 1923.4 751.7 1928.1 756.9C1932.8 762.1 1937.5 766.6 1942.2 771C1946.9 775.4 1951.5 779.5 1956.2 783.2C1960.9 786.9 1965.6 790 1970.3 793.4C1975 796.8 1979.6 800.1 1984.3 803.3C1989 806.5 1993.7 809.4 1998.4 812.4C2003.1 815.4 2007.7 818.2 2012.4 821.1C2017.1 824 2021.8 826.8 2026.5 829.5C2031.2 832.2 2035.8 834.8 2040.5 837.4C2045.2 840 2049.9 842.5 2054.6 845C2059.3 847.5 2063.9 850.1 2068.6 852.5C2073.3 854.9 2078 857.2 2082.7 859.5C2087.4 861.8 2092 864 2096.7 866.2C2101.4 868.4 2106.1 870.5 2110.8 872.5C2115.5 874.5 2120.1 876.6 2124.8 878.4C2129.5 880.2 2132.5 881.5 2138.9 883.4C2145.3 885.3 2154.5 887.7 2163.5 889.7C2172.5 891.7 2182.9 893.6 2192.7 895.6C2202.4 897.6 2212.2 899.9 2222 902C2231.8 904.1 2241.5 906.1 2251.3 908.4C2261.1 910.7 2270.8 913.4 2280.6 916C2290.3 918.6 2300.1 921.5 2309.8 924C2319.6 926.5 2327.9 928.9 2339.1 931.3C2350.3 933.7 2369.4 937.1 2377.2 938.6C2385 940.1 2384.5 940.2 2386 940.5" fill="none" stroke="#000000" stroke-width="8.6" stroke-linejoin="round" stroke-linecap="round"/>
</g>
<g class="tk" text-anchor="end">
<text x="1376.7" y="1010.2">0.0</text>
<text x="1376.7" y="930">0.1</text>
<text x="1376.7" y="849.8">0.2</text>
<text x="1376.7" y="769.7">0.3</text>
<text x="1376.7" y="689.5">0.4</text>
<text x="1376.7" y="609.3">0.5</text>
<text x="1376.7" y="529.1">0.6</text>
<text x="1376.7" y="448.9">0.7</text>
<text x="1376.7" y="368.8">0.8</text>
<text x="1376.7" y="288.6">0.9</text>
<text x="1376.7" y="208.4">1.0</text>
</g>
<g class="tk" text-anchor="middle">
<text x="1486.2" y="1045.8">275</text>
<text x="1585.5" y="1045.8">300</text>
<text x="1684.8" y="1045.8">325</text>
<text x="1784" y="1045.8">350</text>
<text x="1883.2" y="1045.8">375</text>
<text x="1982.5" y="1045.8">400</text>
<text x="2081.8" y="1045.8">425</text>
<text x="2181" y="1045.8">450</text>
<text x="2280.2" y="1045.8">475</text>
<text x="2379.5" y="1045.8">500</text>
</g>
<text class="ti" text-anchor="middle" x="1893.7" y="1104.1">Wavelenght (nm)</text>
<text class="ti" transform="translate(1282.4 793.6) rotate(-90)">Optical density (D<tspan font-size="26.5" dy="8.4">normalized</tspan><tspan dy="-8.4">)</tspan></text>
<text class="pl" transform="translate(1225.8 109.8) scale(1.05 1)">(d)</text>
<line x1="1828.7" y1="260.3" x2="1959.4" y2="260.3" stroke="#000000" stroke-width="16.5" stroke-linecap="round"/>
<text class="lg" transform="translate(1975 283.7) scale(1 1.085)">CQD - Trilon A</text>
<text font-size="84" transform="translate(1804 425.5) scale(1 1)">λ</text>
<text font-size="57" x="1846.5" y="445.9">ex</text>
<text font-size="84" font-weight="bold" transform="translate(1921.4 421.6) scale(1 0.87)">=</text>
<text font-size="65" x="1977.3" y="418">330 nm</text>
</g>
<g id="panel-e">
<clipPath id="cpe"><rect x="1407.6" y="1157.4" width="972" height="808.3"/></clipPath>
<path class="ax" d="M1398.6 1156.4H2379.4M1403.8 1963.5H2379.4M1405.6 1156.4V1963.5M2377.6 1156.4V1979" stroke-width="3.7"/>
<path class="ax" d="M1390.6 1963.5H1405.6M1390.6 1883.2H1405.6M2363.1 1883.2H2377.6M1390.6 1802.8H1405.6M2363.1 1802.8H2377.6M1390.6 1722.5H1405.6M2363.1 1722.5H2377.6M1390.6 1642.2H1405.6M2363.1 1642.2H2377.6M1390.6 1561.8H1405.6M2363.1 1561.8H2377.6M1390.6 1481.5H1405.6M2363.1 1481.5H2377.6M1390.6 1401.2H1405.6M2363.1 1401.2H2377.6M1390.6 1320.9H1405.6M2363.1 1320.9H2377.6M1390.6 1240.5H1405.6M2363.1 1240.5H2377.6M1483.2 1963.5V1979M1582.6 1963.5V1979M1682 1963.5V1979M1781.3 1963.5V1979M1880.7 1963.5V1979M1980.1 1963.5V1979M2079.5 1963.5V1979M2178.8 1963.5V1979M2278.2 1963.5V1979" stroke-width="3.7"/>
<path class="ax" d="M1396.6 1923.3H1405.6M2369.6 1923.3H2377.6M1396.6 1843H1405.6M2369.6 1843H2377.6M1396.6 1762.7H1405.6M2369.6 1762.7H2377.6M1396.6 1682.3H1405.6M2369.6 1682.3H2377.6M1396.6 1602H1405.6M2369.6 1602H2377.6M1396.6 1521.7H1405.6M2369.6 1521.7H2377.6M1396.6 1441.4H1405.6M2369.6 1441.4H2377.6M1396.6 1361H1405.6M2369.6 1361H2377.6M1396.6 1280.7H1405.6M2369.6 1280.7H2377.6M1396.6 1200.4H1405.6M2369.6 1200.4H2377.6M1433.5 1963.5V1971M1532.9 1963.5V1971M1632.3 1963.5V1971M1731.7 1963.5V1971M1831 1963.5V1971M1930.4 1963.5V1971M2029.8 1963.5V1971M2129.2 1963.5V1971M2228.5 1963.5V1971M2327.9 1963.5V1971" stroke-width="3.1"/>
<g clip-path="url(#cpe)">
<path d="M1603.9 1497.5L1604.8 1497.8L1605.9 1498.3L1607.3 1498.8L1608.8 1499.4L1610.4 1500L1612 1500.6L1613.5 1501.1L1614.9 1501.5L1616.2 1501.8L1617.5 1502.1L1618.8 1502.3L1620.1 1502.5L1621.3 1502.7L1622.6 1502.8L1623.8 1502.9L1625 1503L1626.2 1503L1627.3 1503L1628.3 1503L1629.4 1503L1630.5 1502.9L1631.6 1502.7L1632.7 1502.5L1634 1502.3L1635.3 1502L1636.6 1501.8L1638 1501.5L1639.4 1501.1L1640.9 1500.7L1642.5 1500.2L1644.1 1499.6L1645.9 1498.8L1647.8 1497.9L1649.9 1496.9L1652.1 1495.7L1654.4 1494.5L1656.7 1493.2L1659 1491.7L1661.3 1490.2L1663.5 1488.5L1665.7 1486.7L1667.9 1484.8L1670.1 1482.8L1672.2 1480.7L1674.4 1478.5L1676.6 1476.2L1678.8 1473.9L1681 1471.4L1683.2 1468.8L1685.4 1466.1L1687.6 1463.3L1689.8 1460.4L1692 1457.4L1694.2 1454.4L1696.4 1451.5L1698.6 1448.6L1700.8 1445.7L1703 1442.8L1705.2 1439.8L1707.4 1436.9L1709.6 1434L1711.8 1431.1L1714 1428.4L1716.2 1425.8L1718.4 1423.3L1720.8 1420.7L1723.1 1418.3L1725.5 1415.9L1727.7 1413.6L1729.9 1411.6L1731.9 1409.8L1733.7 1408.2L1735.3 1407L1736.6 1406L1737.8 1405.3L1738.9 1404.8L1739.9 1404.3L1740.9 1404L1741.9 1403.7L1743 1403.3L1744.1 1402.9L1745.1 1402.5L1746 1402.1L1747 1401.8L1748 1401.6L1749 1401.5L1750.2 1401.5L1751.5 1401.6L1753 1401.8L1754.6 1402.1L1756.3 1402.4L1758 1402.9L1759.9 1403.5L1761.7 1404.3L1763.5 1405.2L1765.3 1406.4L1767 1407.8L1768.8 1409.3L1770.6 1411L1772.3 1412.8L1774.1 1414.9L1775.9 1417.1L1777.6 1419.6L1779.4 1422.2L1781.2 1425.1L1783 1428.3L1784.8 1431.8L1786.5 1435.4L1788.3 1439.1L1790.1 1442.9L1791.8 1446.6L1793.4 1450.3L1795 1453.8L1796.4 1457.2L1797.8 1460.6L1799.2 1464L1800.6 1467.5L1802 1471.3L1803.5 1475.5L1805.2 1480L1807 1485L1808.9 1490.5L1810.9 1496.3L1812.9 1502.3L1815 1508.5L1817 1514.7L1819.1 1520.8L1821.1 1526.8L1823.1 1532.7L1825.2 1538.8L1827.2 1544.8L1829.3 1550.9L1831.4 1556.9L1833.3 1562.7L1835.3 1568.3L1837.1 1573.7L1838.8 1578.7L1840.5 1583.5L1842.1 1588.1L1843.6 1592.5L1845.1 1596.8L1846.6 1601.2L1848.1 1605.6L1849.6 1610.2L1851.1 1614.9L1852.6 1619.8L1854.1 1624.6L1855.6 1629.5L1857.1 1634.4L1858.7 1639.3L1860.3 1644.1L1861.9 1648.8L1863.5 1653.4L1865.2 1657.9L1866.8 1662.4L1868.5 1666.8L1870.3 1671.3L1872.1 1675.8L1874.1 1680.3L1876.2 1685L1878.4 1689.8L1880.8 1694.7L1883.3 1699.8L1885.8 1704.8L1888.4 1709.9L1891.1 1714.9L1893.9 1719.8L1896.7 1724.5L1899.7 1729.3L1903.1 1734.4L1906.7 1739.5L1910.3 1744.5L1913.7 1749.1L1916.8 1753.3L1917 1753.3C1913.6 1749.6 1905.5 1740.4 1896.7 1730.8C1887.9 1721.2 1876.2 1708.6 1863.9 1696C1851.6 1683.4 1837.6 1668.4 1823 1655C1808.4 1641.6 1788.7 1625.8 1776.2 1615.5C1763.7 1605.2 1757.5 1600.5 1748.1 1593.2C1738.7 1585.9 1731.5 1580 1720 1571.6C1708.5 1563.2 1690.7 1550.7 1679.2 1542.9C1667.7 1535.2 1659 1530 1651.1 1525.1C1643.2 1520.1 1638 1516.9 1632 1513.2C1626 1509.5 1619.7 1505.6 1615 1503C1610.3 1500.4 1605.8 1498.4 1603.9 1497.5Z" fill="#5a73cd"/>
<path d="M1603.9 1497.5C1605.8 1498.4 1610.3 1500.4 1615 1503C1619.7 1505.6 1626 1509.5 1632 1513.2C1638 1516.9 1643.2 1520.1 1651.1 1525.1C1659 1530 1667.7 1535.2 1679.2 1542.9C1690.7 1550.7 1708.5 1563.2 1720 1571.6C1731.5 1580 1738.7 1585.9 1748.1 1593.2C1757.5 1600.5 1763.7 1605.2 1776.2 1615.5C1788.7 1625.8 1808.4 1641.6 1823 1655C1837.6 1668.4 1851.6 1683.4 1863.9 1696C1876.2 1708.6 1887.9 1721.2 1896.7 1730.8C1905.5 1740.4 1913.6 1749.6 1917 1753.3" fill="none" stroke="#0028b4" stroke-width="9" stroke-linejoin="round" stroke-linecap="butt"/>
<path d="M1403 1176C1403.7 1177.8 1404.4 1179.6 1407.2 1187.1C1410 1194.6 1415.6 1208.9 1420 1220.8C1424.4 1232.7 1428.5 1245.3 1433.7 1258.5C1438.9 1271.7 1446.1 1288 1451.1 1300C1456 1312 1459.4 1321.2 1463.4 1330.4C1467.4 1339.6 1471.1 1347.2 1475.1 1355C1479 1362.8 1483.2 1370.3 1487.1 1377.3C1491 1384.3 1494.6 1390.9 1498.5 1397.2C1502.4 1403.5 1506.4 1409.5 1510.3 1415C1514.2 1420.5 1518.1 1425.2 1522 1430C1525.9 1434.8 1529.8 1439.6 1533.7 1443.8C1537.6 1448 1541.5 1451.8 1545.4 1455.4C1549.3 1459.1 1553.2 1462.4 1557.1 1465.7C1561 1469 1564.9 1472.1 1568.8 1475.1C1572.7 1478.1 1576.6 1481.1 1580.5 1483.8C1584.4 1486.5 1588.3 1489.2 1592.2 1491.5C1596.1 1493.8 1600.1 1495.8 1603.9 1497.5C1607.7 1499.2 1611.4 1500.6 1614.9 1501.5C1618.4 1502.4 1621.8 1502.9 1625 1503C1628.2 1503.1 1630.5 1503 1634 1502.3C1637.5 1501.6 1641 1501.1 1645.9 1498.8C1650.8 1496.5 1657.7 1493.1 1663.5 1488.5C1669.3 1483.9 1675.2 1478.1 1681 1471.4C1686.8 1464.8 1692.7 1456.2 1698.6 1448.6C1704.5 1441 1710.3 1432.5 1716.2 1425.8C1722.1 1419.1 1729.2 1412 1733.7 1408.2C1738.2 1404.5 1740 1404.4 1743 1403.3C1746 1402.2 1747.8 1401.1 1751.5 1401.6C1755.2 1402.1 1760.6 1403 1765.3 1406.4C1770 1409.8 1774.7 1414.9 1779.4 1422.2C1784.1 1429.5 1789.1 1440.7 1793.4 1450.3C1797.7 1459.9 1800.6 1467.2 1805.2 1480C1809.8 1492.8 1815.8 1511.2 1821.1 1526.8C1826.4 1542.4 1832.3 1559.8 1837.1 1573.7C1841.8 1587.6 1845.5 1597.7 1849.6 1610.2C1853.7 1622.7 1857.5 1636.3 1861.9 1648.8C1866.3 1661.3 1870.4 1672.4 1876.2 1685C1882 1697.6 1889.2 1712.1 1896.7 1724.5C1904.2 1736.9 1913.1 1748.9 1921.3 1759.5C1929.5 1770.1 1936.3 1778.6 1945.9 1788.2C1955.5 1797.8 1967.8 1808.7 1978.7 1816.9C1989.6 1825.1 2000.6 1831.2 2011.5 1837.4C2022.4 1843.6 2033.4 1848.7 2044.3 1853.8C2055.2 1858.9 2066.1 1863.7 2077 1868.1C2087.9 1872.5 2097.5 1876.2 2109.8 1880.4C2122.1 1884.6 2137.1 1889.5 2150.8 1893.5C2164.5 1897.5 2178.1 1900.9 2191.8 1904.2C2205.5 1907.5 2219.1 1910.3 2232.8 1913.2C2246.5 1916.1 2260.1 1918.9 2273.8 1921.4C2287.5 1923.9 2301.2 1926.4 2314.8 1928.4C2328.5 1930.5 2345.5 1932.3 2355.7 1933.7C2365.9 1935.1 2371.3 1935.9 2376.2 1936.6C2381.1 1937.2 2383.5 1937.4 2385 1937.6" fill="none" stroke="#0028b4" stroke-width="9.8" stroke-linejoin="round" stroke-linecap="round"/>
</g>
<g class="tk" text-anchor="end">
<text x="1379.4" y="1971.6">0.0</text>
<text x="1379.4" y="1891.3">0.1</text>
<text x="1379.4" y="1810.9">0.2</text>
<text x="1379.4" y="1730.6">0.3</text>
<text x="1379.4" y="1650.3">0.4</text>
<text x="1379.4" y="1570">0.5</text>
<text x="1379.4" y="1489.6">0.6</text>
<text x="1379.4" y="1409.3">0.7</text>
<text x="1379.4" y="1329">0.8</text>
<text x="1379.4" y="1248.6">0.9</text>
<text x="1379.4" y="1168.3">1.0</text>
</g>
<g class="tk" text-anchor="middle">
<text x="1483.2" y="2012">275</text>
<text x="1582.6" y="2012">300</text>
<text x="1682" y="2012">325</text>
<text x="1781.3" y="2012">350</text>
<text x="1880.7" y="2012">375</text>
<text x="1980.1" y="2012">400</text>
<text x="2079.5" y="2012">425</text>
<text x="2178.8" y="2012">450</text>
<text x="2278.2" y="2012">475</text>
<text x="2377.6" y="2012">500</text>
</g>
<text class="ti" text-anchor="middle" x="1928.5" y="2070.3">Wavelenght (nm)</text>
<text class="ti" transform="translate(1282.4 1762) rotate(-90)">Optical density (D<tspan font-size="26.5" dy="8.4">normalized</tspan><tspan dy="-8.4">)</tspan></text>
<text class="pl" transform="translate(1225.8 1111.4) scale(1.05 1)">(e)</text>
<line x1="1807.9" y1="1227.8" x2="1940.1" y2="1227.8" stroke="#0028b4" stroke-width="16.5" stroke-linecap="round"/>
<text class="lg" transform="translate(1955 1249) scale(1 1.085)">CQD - Trilon B</text>
<text font-size="84" transform="translate(1598.2 1365.2) scale(1 1)">λ</text>
<text font-size="57" x="1641.7" y="1386">ex</text>
<text font-size="84" font-weight="bold" transform="translate(1713.6 1358.6) scale(1 0.87)">=</text>
<text font-size="64.3" x="1769.2" y="1357.8">343 nm</text>
</g>
<g id="panel-f">
<clipPath id="cpf"><rect x="1398.2" y="2128.5" width="975.6" height="804.1"/></clipPath>
<path class="ax" d="M1385.2 2127.5H2373.7M1398.4 2930.4H2373.7M1400.2 2127.5V2930.4M2371.8 2127.5V2945.9" stroke-width="3.7"/>
<path class="ax" d="M1385.2 2930.4H1400.2M1385.2 2850.1H1400.2M2357.3 2850.1H2371.8M1385.2 2769.8H1400.2M2357.3 2769.8H2371.8M1385.2 2689.5H1400.2M2357.3 2689.5H2371.8M1385.2 2609.2H1400.2M2357.3 2609.2H2371.8M1385.2 2529H1400.2M2357.3 2529H2371.8M1385.2 2448.7H1400.2M2357.3 2448.7H2371.8M1385.2 2368.4H1400.2M2357.3 2368.4H2371.8M1385.2 2288.1H1400.2M2357.3 2288.1H2371.8M1385.2 2207.8H1400.2M2357.3 2207.8H2371.8M1477.2 2930.4V2945.9M1576.6 2930.4V2945.9M1676 2930.4V2945.9M1775.4 2930.4V2945.9M1874.8 2930.4V2945.9M1974.2 2930.4V2945.9M2073.6 2930.4V2945.9M2173 2930.4V2945.9M2272.4 2930.4V2945.9" stroke-width="3.7"/>
<path class="ax" d="M1391.2 2890.3H1400.2M2363.8 2890.3H2371.8M1391.2 2810H1400.2M2363.8 2810H2371.8M1391.2 2729.7H1400.2M2363.8 2729.7H2371.8M1391.2 2649.4H1400.2M2363.8 2649.4H2371.8M1391.2 2569.1H1400.2M2363.8 2569.1H2371.8M1391.2 2488.8H1400.2M2363.8 2488.8H2371.8M1391.2 2408.5H1400.2M2363.8 2408.5H2371.8M1391.2 2328.2H1400.2M2363.8 2328.2H2371.8M1391.2 2247.9H1400.2M2363.8 2247.9H2371.8M1391.2 2167.6H1400.2M2363.8 2167.6H2371.8M1427.5 2930.4V2937.9M1526.9 2930.4V2937.9M1626.3 2930.4V2937.9M1725.7 2930.4V2937.9M1825.1 2930.4V2937.9M1924.5 2930.4V2937.9M2023.9 2930.4V2937.9M2123.3 2930.4V2937.9M2222.7 2930.4V2937.9M2322.1 2930.4V2937.9" stroke-width="3.1"/>
<g clip-path="url(#cpf)">
<path d="M1589.1 2697.7L1590.9 2697.4L1593.3 2697.1L1596.2 2696.7L1599.3 2696.3L1602.7 2695.7L1606.1 2695L1609.4 2694.1L1612.5 2693L1615.4 2691.7L1618.3 2690.3L1621.3 2688.6L1624.2 2686.9L1627.1 2685L1630.1 2682.9L1633 2680.7L1635.9 2678.4L1638.8 2675.9L1641.8 2673.2L1644.7 2670.4L1647.6 2667.4L1650.5 2664.3L1653.4 2661.2L1656.4 2658L1659.3 2654.9L1662.2 2651.8L1665 2648.7L1667.8 2645.6L1670.6 2642.5L1673.5 2639.2L1676.4 2635.9L1679.5 2632.3L1682.7 2628.6L1686.1 2624.6L1689.6 2620.3L1693.3 2615.8L1697 2611.2L1700.8 2606.6L1704.5 2602.1L1708.3 2597.7L1712 2593.5L1715.7 2589.5L1719.3 2585.6L1723 2581.8L1726.7 2578L1730.3 2574.4L1734 2570.9L1737.6 2567.5L1741.3 2564.2L1745 2561L1748.6 2557.8L1752.3 2554.8L1756 2551.8L1759.6 2549L1763.3 2546.4L1766.9 2544L1770.6 2541.9L1774.3 2540L1777.9 2538.2L1781.6 2536.7L1785.2 2535.3L1788.8 2534.1L1792.5 2533.2L1796.1 2532.5L1799.8 2532L1803.5 2531.7L1807.1 2531.7L1810.8 2531.8L1814.4 2532.2L1818.1 2532.8L1821.8 2533.7L1825.4 2534.8L1829.1 2536.1L1832.8 2537.7L1836.4 2539.6L1840.1 2541.7L1843.7 2544L1847.4 2546.5L1851.1 2549.3L1854.7 2552.3L1858.4 2555.4L1862.1 2558.7L1865.7 2562.3L1869.4 2566.1L1873.1 2570.1L1876.7 2574.3L1880.4 2578.6L1884 2583.1L1887.7 2587.6L1891.4 2592.3L1895 2597.1L1898.7 2602.1L1902.3 2607.2L1905.9 2612.4L1909.6 2617.7L1913.2 2623.1L1916.9 2628.6L1920.6 2634.2L1924.2 2639.9L1927.9 2645.7L1931.5 2651.6L1935.2 2657.6L1938.9 2663.6L1942.5 2669.5L1946.2 2675.4L1949.9 2681.3L1953.5 2687.2L1957.2 2693.1L1960.8 2699L1964.5 2704.9L1968.2 2710.8L1971.8 2716.6L1975.5 2722.3L1979.2 2728L1982.8 2733.6L1986.5 2739.2L1990.2 2744.8L1993.8 2750.3L1997.5 2755.7L2001.1 2761L2004.8 2766.2L2008.5 2771.3L2012.1 2776.3L2015.8 2781.3L2019.4 2786.1L2023 2790.8L2026.7 2795.4L2030.3 2799.9L2034 2804.2L2037.7 2808.3L2041.3 2812.3L2045 2816.2L2048.6 2819.9L2052.3 2823.5L2056 2827L2059.6 2830.3L2063.3 2833.5L2067.2 2836.6L2071.3 2839.7L2072 2839.7C2067.7 2837.7 2057.3 2832.8 2046.1 2827.4C2034.9 2822 2021.4 2815.4 2004.8 2807.2C1988.2 2798.9 1965.7 2787.7 1946.2 2777.9C1926.7 2768.1 1907.2 2757.4 1887.7 2748.6C1868.2 2739.8 1848.6 2732 1829.1 2725.2C1809.6 2718.4 1790.1 2712.1 1770.6 2708C1751.1 2703.9 1731.5 2702.1 1712 2700.5C1692.5 2698.9 1674 2699 1653.5 2698.5C1633 2698 1599.8 2697.8 1589.1 2697.7Z" fill="#ffbb60"/>
<path d="M1589.1 2697.7C1599.8 2697.8 1633 2698 1653.5 2698.5C1674 2699 1692.5 2698.9 1712 2700.5C1731.5 2702.1 1751.1 2703.9 1770.6 2708C1790.1 2712.1 1809.6 2718.4 1829.1 2725.2C1848.6 2732 1868.2 2739.8 1887.7 2748.6C1907.2 2757.4 1926.7 2768.1 1946.2 2777.9C1965.7 2787.7 1988.2 2798.9 2004.8 2807.2C2021.4 2815.4 2034.9 2822 2046.1 2827.4C2057.3 2832.8 2065.1 2835.9 2072 2839.7C2078.9 2843.6 2084.8 2848.7 2087.3 2850.5" fill="none" stroke="#ff9900" stroke-width="7.3" stroke-linejoin="round" stroke-linecap="butt"/>
<path d="M1392 2366C1393.1 2368.5 1394.5 2373 1398.5 2381C1402.5 2389 1410.3 2401.9 1416 2414C1421.7 2426.1 1427.3 2440.2 1432.7 2453.5C1438.1 2466.8 1441 2475.6 1448.5 2494C1456 2512.4 1468 2543.2 1477.8 2564.2C1487.6 2585.2 1497.3 2603.2 1507.1 2619.8C1516.9 2636.4 1526.7 2652 1536.4 2663.7C1546.2 2675.4 1556.8 2684.4 1565.6 2690.1C1574.4 2695.8 1581.3 2697.2 1589.1 2697.7C1596.9 2698.2 1604.7 2696.2 1612.5 2693C1620.3 2689.8 1628.1 2684.8 1635.9 2678.4C1643.7 2672.1 1651.5 2663.2 1659.3 2654.9C1667.1 2646.6 1673.9 2638.8 1682.7 2628.6C1691.5 2618.4 1702.2 2604.2 1712 2593.5C1721.8 2582.8 1731.5 2572.8 1741.3 2564.2C1751.1 2555.6 1760.8 2547.3 1770.6 2541.9C1780.3 2536.5 1790 2533 1799.8 2532C1809.5 2531 1819.3 2532.2 1829.1 2536.1C1838.9 2540 1848.6 2546.8 1858.4 2555.4C1868.2 2564 1878 2575.4 1887.7 2587.6C1897.5 2599.8 1907.2 2614 1916.9 2628.6C1926.7 2643.2 1936.4 2659.8 1946.2 2675.4C1956 2691 1965.7 2707.2 1975.5 2722.3C1985.3 2737.4 1995 2752.5 2004.8 2766.2C2014.5 2779.8 2024.2 2793 2034 2804.2C2043.8 2815.4 2053.5 2825.2 2063.3 2833.5C2073.1 2841.8 2082.8 2847.9 2092.6 2854C2102.4 2860.1 2112.2 2865.2 2121.9 2869.8C2131.7 2874.4 2136.5 2877.3 2151.1 2881.5C2165.7 2885.7 2190.2 2891.3 2209.7 2895C2229.2 2898.7 2248.7 2901.4 2268.2 2903.8C2287.7 2906.2 2309.7 2908.3 2326.8 2909.6C2343.9 2910.9 2361.8 2911.1 2370.7 2911.4C2379.6 2911.8 2378.4 2911.6 2380 2911.7" fill="none" stroke="#ff9900" stroke-width="10.2" stroke-linejoin="round" stroke-linecap="round"/>
</g>
<g class="tk" text-anchor="end">
<text x="1367.3" y="2940.3">0.0</text>
<text x="1367.3" y="2860">0.1</text>
<text x="1367.3" y="2779.7">0.2</text>
<text x="1367.3" y="2699.4">0.3</text>
<text x="1367.3" y="2619.1">0.4</text>
<text x="1367.3" y="2538.9">0.5</text>
<text x="1367.3" y="2458.6">0.6</text>
<text x="1367.3" y="2378.3">0.7</text>
<text x="1367.3" y="2298">0.8</text>
<text x="1367.3" y="2217.7">0.9</text>
<text x="1367.3" y="2137.4">1.0</text>
</g>
<g class="tk" text-anchor="middle">
<text x="1477.2" y="2978.9">275</text>
<text x="1576.6" y="2978.9">300</text>
<text x="1676" y="2978.9">325</text>
<text x="1775.4" y="2978.9">350</text>
<text x="1874.8" y="2978.9">375</text>
<text x="1974.2" y="2978.9">400</text>
<text x="2073.6" y="2978.9">425</text>
<text x="2173" y="2978.9">450</text>
<text x="2272.4" y="2978.9">475</text>
<text x="2371.8" y="2978.9">500</text>
</g>
<text class="ti" text-anchor="middle" x="1886" y="3037.2">Wavelenght (nm)</text>
<text class="ti" transform="translate(1282.4 2731.9) rotate(-90)">Optical density (D<tspan font-size="26.5" dy="8.4">normalized</tspan><tspan dy="-8.4">)</tspan></text>
<text class="pl" transform="translate(1235.2 2080.8) scale(1.05 1)">(f)</text>
<line x1="1804" y1="2186" x2="1933.7" y2="2186" stroke="#ff9900" stroke-width="16.5" stroke-linecap="round"/>
<text class="lg" transform="translate(1950 2208.3) scale(1 1.085)">CQD - Trilon C</text>
<text font-size="84" transform="translate(1672.3 2493.4) scale(1 1)">λ</text>
<text font-size="57" x="1711.3" y="2516.7">ex</text>
<text font-size="84" font-weight="bold" transform="translate(1784.7 2489.6) scale(1 0.87)">=</text>
<text font-size="63" x="1841.9" y="2487">359 nm</text>
</g>
</svg></body></html>
